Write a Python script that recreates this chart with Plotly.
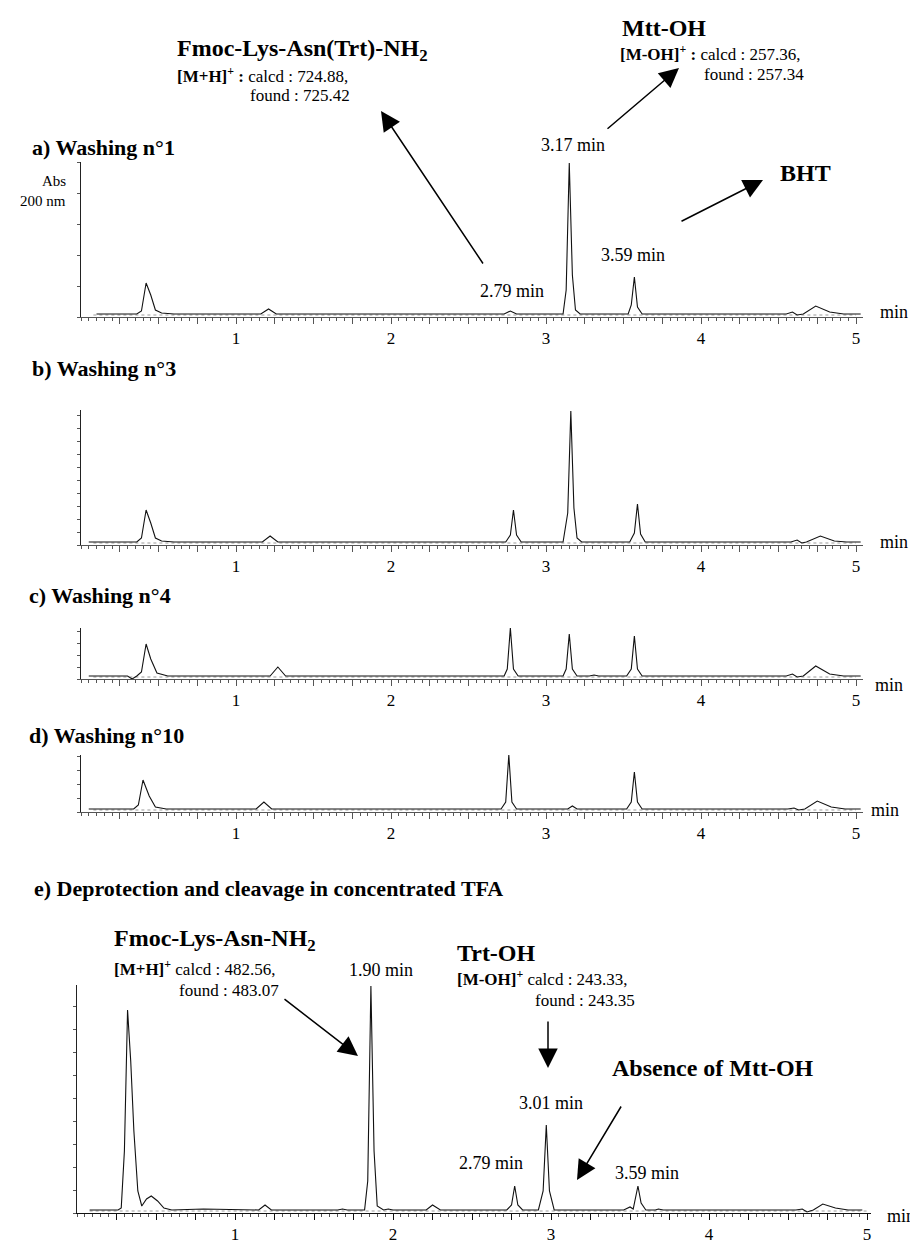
import plotly.graph_objects as go

W, H = 918, 1244
FONT = "Liberation Serif, Times New Roman, serif"

# ---------------- data (retention time in min, absorbance in arbitrary units) ----------------
a_t = [0.10, 0.36, 0.39, 0.42, 0.45, 0.48, 0.52, 0.60, 1.16, 1.21, 1.26, 2.73, 2.77, 2.81,
       3.11, 3.13, 3.15, 3.17, 3.19, 3.22, 3.53, 3.55, 3.57, 3.59, 3.62,
       4.55, 4.59, 4.62, 4.66, 4.74, 4.83, 4.92, 5.03]
a_y = [1, 1, 4, 32, 20, 5, 2, 1, 1, 6, 1, 1, 4, 1,
       1, 25, 152, 40, 5, 1, 1, 10, 38, 8, 1,
       1, 3, 0, 1, 9, 3, 1, 1]

b_t = [0.05, 0.36, 0.39, 0.42, 0.45, 0.48, 0.52, 0.60, 1.17, 1.22, 1.27,
       2.74, 2.77, 2.79, 2.81, 2.84, 3.11, 3.14, 3.16, 3.18, 3.20, 3.23,
       3.54, 3.57, 3.59, 3.61, 3.64, 4.58, 4.62, 4.65, 4.68, 4.77, 4.86, 4.94, 5.03]
b_y = [1, 1, 5, 33, 20, 5, 2, 1, 1, 7, 1,
       1, 8, 33, 8, 1, 1, 30, 132, 35, 5, 1,
       1, 10, 39, 9, 1, 1, 3, 0, 1, 7, 2, 1, 1]

c_t = [0.05, 0.30, 0.33, 0.36, 0.39, 0.42, 0.45, 0.49, 0.56, 1.22, 1.27, 1.32,
       2.73, 2.75, 2.77, 2.79, 2.82, 3.11, 3.13, 3.15, 3.17, 3.20, 3.28, 3.31, 3.34,
       3.52, 3.55, 3.57, 3.59, 3.62, 4.55, 4.59, 4.62, 4.66, 4.74, 4.83, 4.92, 5.03]
c_y = [1, 1, -2, 1, 5, 33, 18, 4, 1, 1, 10, 1,
       1, 8, 49, 8, 1, 1, 8, 43, 8, 1, 1, 2, 1,
       1, 8, 41, 8, 1, 1, 3, 0, 1, 11, 3, 1, 1]

d_t = [0.05, 0.30, 0.34, 0.37, 0.40, 0.44, 0.48, 0.55, 1.13, 1.18, 1.23,
       2.71, 2.74, 2.76, 2.78, 2.81, 3.14, 3.17, 3.20, 3.52, 3.55, 3.57, 3.59, 3.62,
       4.56, 4.60, 4.63, 4.67, 4.75, 4.84, 4.93, 5.03]
d_y = [1, 1, 1, 5, 30, 14, 3, 1, 1, 8, 1,
       1, 8, 55, 8, 1, 1, 4, 1, 1, 8, 38, 8, 1,
       1, 2, 0, 1, 9, 3, 1, 1]

e_t = [0.08, 0.26, 0.28, 0.30, 0.32, 0.34, 0.36, 0.385, 0.41, 0.44, 0.47, 0.51, 0.55, 0.60,
       0.80, 1.15, 1.19, 1.23, 1.65, 1.68, 1.71, 1.82, 1.84, 1.86, 1.88, 1.90,
       1.94, 1.97, 2.00, 2.21, 2.25, 2.30, 2.72, 2.75, 2.77, 2.79, 2.82,
       2.92, 2.95, 2.97, 2.99, 3.02, 3.46, 3.50, 3.52, 3.55, 3.57, 3.60,
       3.66, 3.68, 3.71, 4.55, 4.59, 4.62, 4.66, 4.72, 4.80, 4.88, 4.97]
e_y = [1, 1, 3, 60, 201, 150, 80, 20, 5, 12, 15, 10, 3, 1,
       2, 1, 6, 1, 1, 2, 1, 1, 30, 225, 60, 5,
       1, 2, 1, 1, 6, 1, 1, 6, 25, 6, 1,
       1, 20, 86, 20, 1, 1, 4, 2, 25, 8, 1,
       1, 2, 1, 1, 2, -1, 1, 7, 3, 1, 1]

blank_t = [0.08, 5.00]
blank_y = [0, 0]

panel_titles = ["a) Washing n°1", "b) Washing n°3", "c) Washing n°4", "d) Washing n°10",
                "e) Deprotection and cleavage in concentrated TFA"]
tick_labels = ["1", "2", "3", "4", "5"]

# ---------------- layout geometry (pixels) ----------------
# (left, right, top, bottom, xmax, ymax, ydtick, axis colour)
geom = [
    (73, 855, 154, 309, 5.045, 153, 31, "#555"),
    (73, 855, 402, 537, 5.045, 133, 13, "#555"),
    (73, 855, 620, 671, 5.045, 49, 12, "#555"),
    (73, 855, 747, 804, 5.045, 55, 14, "#555"),
    (69, 863, 977, 1205, 5.025, 226, 23, "#111"),
]
series = [(a_t, a_y), (b_t, b_y), (c_t, c_y), (d_t, d_y), (e_t, e_y)]

fig = go.Figure()
major = [i * 0.25 for i in range(1, 21)]
major_txt = [tick_labels[int(v) - 1] if abs(v - round(v)) < 1e-9 else "" for v in major]

for i, ((t, y), g) in enumerate(zip(series, geom)):
    n = "" if i == 0 else str(i + 1)
    left, right, top, bot, xmax, ymax, ydt, axc = g
    fig.add_trace(go.Scatter(x=blank_t, y=blank_y, mode="lines", xaxis="x" + n, yaxis="y" + n,
                             line=dict(color="#9a9a9a", width=1, dash="dot"), hoverinfo="skip"))
    fig.add_trace(go.Scatter(x=t, y=y, mode="lines", xaxis="x" + n, yaxis="y" + n,
                             line=dict(color="#111111", width=1.1), hoverinfo="skip"))
    fig.layout["xaxis" + n] = dict(
        domain=[left / W, right / W], range=[0, xmax], anchor="y" + n,
        showline=True, linecolor=axc, linewidth=1, showgrid=False, zeroline=False,
        ticks="outside", ticklen=6, tickwidth=1, tickcolor=axc,
        tickmode="array", tickvals=major, ticktext=major_txt,
        tickfont=dict(family=FONT, size=17, color="black"),
        minor=dict(dtick=0.05, tick0=0, ticks="outside", ticklen=3, tickcolor="#555", showgrid=False),
    )
    fig.layout["yaxis" + n] = dict(
        domain=[1 - bot / H, 1 - top / H], range=[-2, ymax], anchor="x" + n,
        showline=True, linecolor="#222", linewidth=1, showgrid=False, zeroline=False,
        ticks="outside", ticklen=3, tickcolor="#555", dtick=ydt, tick0=-2,
        showticklabels=False,
    )

ann = []


def txt(x, y, s, size, anchor="left", bold=False):
    if bold:
        s = "<b>" + s + "</b>"
    ann.append(dict(x=x / W, y=1 - y / H, xref="paper", yref="paper", text=s, showarrow=False,
                    xanchor=anchor, yanchor="middle", borderpad=0,
                    font=dict(family=FONT, size=size, color="black")))


def arrow(tx, ty, hx, hy):
    ann.append(dict(x=hx / W, y=1 - hy / H, xref="paper", yref="paper", text="",
                    showarrow=True, ax=tx - hx, ay=ty - hy, axref="pixel", ayref="pixel",
                    arrowhead=2, arrowsize=2.6, arrowwidth=1.5, arrowcolor="black", standoff=0))


# panel titles
for s, (x, y) in zip(panel_titles, [(23, 140), (23, 360), (20, 587), (20, 727), (25, 880)]):
    txt(x, y, s, 22, bold=True)

# "min" labels
for x, y in [(871, 304), (871, 534), (866, 677), (862, 802), (878, 1208)]:
    txt(x, y, "min", 18)

# panel a
txt(59, 173, "Abs", 15, anchor="right")
txt(59, 193, "200 nm", 15, anchor="right")
txt(168, 42, "Fmoc-Lys-Asn(Trt)-NH<sub>2</sub>", 24, bold=True)
txt(168, 67, "<b>[M+H]<sup>+</sup> :</b> calcd : 724.88,", 17)
txt(241, 88, "found : 725.42", 17)
arrow(476, 257, 373, 103)
txt(613, 20, "Mtt-OH", 24, bold=True)
txt(611, 45, "<b>[M-OH]<sup>+</sup> :</b> calcd : 257.36,", 17)
txt(695, 66, "found : 257.34", 17)
arrow(598, 122, 671, 60)
txt(565, 137, "3.17 min", 18, anchor="center")
txt(771, 165, "BHT", 24, bold=True)
arrow(672, 214, 755, 172)
txt(625, 247, "3.59 min", 18, anchor="center")
txt(504, 283, "2.79 min", 18, anchor="center")

# panel e
txt(105, 932, "Fmoc-Lys-Asn-NH<sub>2</sub>", 24, bold=True)
txt(105, 960, "<b>[M+H]<sup>+</sup></b> calcd : 482.56,", 17)
txt(170, 982, "found : 483.07", 17)
arrow(275, 990, 350, 1048)
txt(373, 962, "1.90 min", 18, anchor="center")
txt(448, 945, "Trt-OH", 24, bold=True)
txt(448, 970, "<b>[M-OH]<sup>+</sup></b> calcd : 243.33,", 17)
txt(526, 992, "found : 243.35", 17)
arrow(540, 1012, 540, 1060)
txt(603, 1060, "Absence of Mtt-OH", 24, bold=True)
arrow(614, 1097, 569, 1172)
txt(543, 1095, "3.01 min", 18, anchor="center")
txt(483, 1155, "2.79 min", 18, anchor="center")
txt(639, 1165, "3.59 min", 18, anchor="center")

fig.update_layout(width=W, height=H, margin=dict(l=0, r=0, t=0, b=0), showlegend=False,
                  paper_bgcolor="white", plot_bgcolor="white", annotations=ann,
                  font=dict(family=FONT, color="black"))

fig.write_html("out.html")
